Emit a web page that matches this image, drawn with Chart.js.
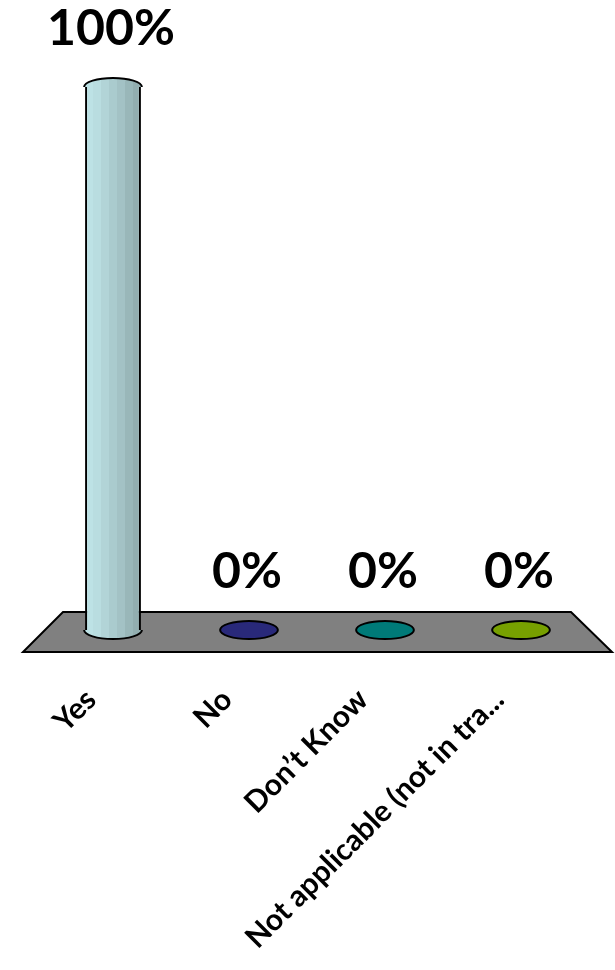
<!DOCTYPE html>
<html>
<head>
<meta charset="utf-8">
<script src="https://cdn.jsdelivr.net/npm/chart.js@4.4.1/dist/chart.umd.min.js"></script>
<style>
  html, body { margin: 0; padding: 0; background: #fff; }
  #canvasContainer { width: 615px; height: 970px; }
</style>
</head>
<body>
<div id="canvasContainer"><canvas id="myChart" width="615" height="970"></canvas></div>
<script>
'use strict';

// survey answers, percent of respondents
const categories = ['Yes', 'No', 'Don\u2019t Know', 'Not applicable (not in tra...'];
const answerShare = [100, 0, 0, 0];
const barColors = ['#bde2e5', '#29297a', '#007a78', '#77a000'];

const barPct = 0.41;

function shade(hex, f) {
  const n = parseInt(hex.slice(1), 16);
  const r = Math.min(255, Math.round(((n >> 16) & 255) * f));
  const g = Math.min(255, Math.round(((n >> 8) & 255) * f));
  const b = Math.min(255, Math.round((n & 255) * f));
  return `rgb(${r},${g},${b})`;
}

// banded fill so the bar looks like the old office cylinder
function cylinderFill(ctx, x, w, color) {
  const grad = ctx.createLinearGradient(x - w / 2, 0, x + w / 2, 0);
  const bands = [1.0, 0.98, 0.94, 0.9, 0.86, 0.81, 0.77];
  bands.forEach(function(f, i) {
    grad.addColorStop(i / bands.length, shade(color, f));
    grad.addColorStop((i + 1) / bands.length - 0.001, shade(color, f));
  });
  return grad;
}

const floorPlugin = {
  id: 'floor',
  beforeDatasetsDraw(chart) {
    const ctx = chart.ctx;
    const a = chart.chartArea;
    ctx.save();
    ctx.beginPath();
    ctx.moveTo(a.left + 18, a.bottom - 18);
    ctx.lineTo(a.right - 18, a.bottom - 18);
    ctx.lineTo(a.right + 23, a.bottom + 22);
    ctx.lineTo(a.left - 22, a.bottom + 22);
    ctx.closePath();
    ctx.fillStyle = '#808080';
    ctx.fill();
    ctx.lineWidth = 2;
    ctx.strokeStyle = '#000';
    ctx.stroke();
    ctx.restore();
  }
};

const capsPlugin = {
  id: 'caps',
  afterDatasetsDraw(chart) {
    const ctx = chart.ctx;
    const meta = chart.getDatasetMeta(0);
    ctx.save();
    meta.data.forEach(function(bar, i) {
      const p = bar.getProps(['x', 'y', 'base', 'width'], true);
      const rx = p.width / 2 + 1;
      const ry = 9;
      ctx.lineWidth = 2;
      ctx.strokeStyle = '#000';
      if (p.base - p.y < 1) {
        ctx.beginPath();
        ctx.ellipse(p.x, p.base, rx, ry, 0, 0, Math.PI * 2);
        ctx.fillStyle = barColors[i];
        ctx.fill();
        ctx.stroke();
      } else {
        const fill = cylinderFill(ctx, p.x, p.width, barColors[i]);
        ctx.beginPath();
        ctx.ellipse(p.x, p.base, rx, ry, 0, 0, Math.PI);
        ctx.fillStyle = fill;
        ctx.fill();
        ctx.stroke();
        ctx.beginPath();
        ctx.ellipse(p.x, p.y, rx, ry, 0, Math.PI, Math.PI * 2);
        ctx.fill();
        ctx.stroke();
      }
      ctx.fillStyle = '#000';
      ctx.font = 'bold 50px Lato';
      ctx.textAlign = 'center';
      ctx.textBaseline = 'alphabetic';
      ctx.fillText(answerShare[i] + '%', p.x - 2, p.y - 42);
    });
    ctx.restore();
  }
};

const ctxMap = document.getElementById('myChart');
const chart = new Chart(ctxMap, {
  type: 'bar',
  data: {
    labels: categories,
    datasets: [{
      data: answerShare,
      backgroundColor: function(c) {
        const ch = c.chart;
        if (!ch.chartArea) return barColors[c.dataIndex];
        const xs = ch.scales.x;
        const x = xs.getPixelForValue(c.dataIndex);
        const w = xs.width / categories.length * barPct;
        return cylinderFill(ch.ctx, x, w, barColors[c.dataIndex]);
      },
      borderColor: '#000',
      borderWidth: { left: 2, right: 2, top: 0, bottom: 0 },
      barPercentage: barPct,
      categoryPercentage: 1
    }]
  },
  options: {
    responsive: false,
    animation: false,
    devicePixelRatio: 1,
    layout: { padding: { left: 45, right: 26, top: 87, bottom: 0 } },
    plugins: { legend: { display: false }, tooltip: { enabled: false } },
    scales: {
      x: {
        grid: { display: false, drawTicks: false },
        border: { display: false },
        ticks: {
          autoSkip: false,
          minRotation: 45,
          maxRotation: 45,
          labelOffset: -22,
          padding: 52,
          color: '#000',
          font: { family: 'Lato', weight: 'bold', size: 30 }
        },
        afterFit: function(scale) { scale.height = 340; }
      },
      y: { display: false, min: 0, max: 100 }
    }
  },
  plugins: [floorPlugin, capsPlugin]
});
</script>
</body>
</html>
